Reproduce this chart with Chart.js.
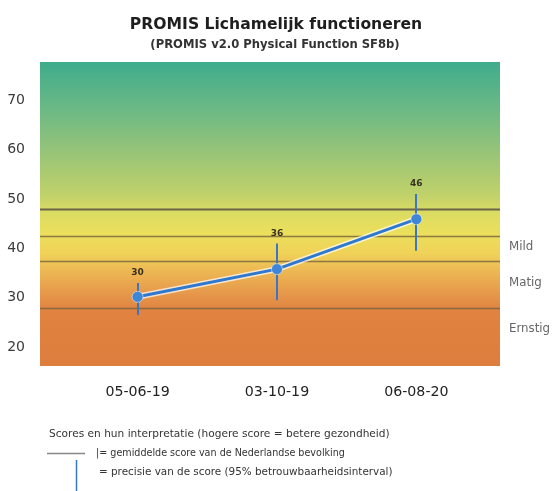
<!DOCTYPE html>
<html>
<head>
<meta charset="utf-8">
<script src="https://cdn.jsdelivr.net/npm/chart.js@4"></script>
<style>
  body { margin: 0; background: #fff; }
  canvas { display: block; }
</style>
</head>
<body>
<canvas id="grafiek" width="558" height="491"></canvas>
<script>
// Gegevens
const categories = ['05-06-19', '03-10-19', '06-08-20'];
const scores = [30.2, 35.8, 45.9];
const lower = [26.5, 29.5, 39.5];
const upper = [33, 41, 51];
const scoreLabels = ['30', '36', '46'];
const yTicks = [20, 30, 40, 50, 60, 70];
const refLines = [48, 42.5, 37.5, 28];
const bandLabels = ['Mild', 'Matig', 'Ernstig'];
const bandLabelValues = [40.2, 33.1, 23.8];

const FONT = '"DejaVu Sans", Verdana, sans-serif';

// Achtergrond met kleurverloop en referentielijnen
const achtergrond = {
  id: 'achtergrond',
  beforeDraw(chart) {
    const { ctx, chartArea: a, scales: { y } } = chart;
    ctx.save();
    ctx.fillStyle = '#fff';
    ctx.fillRect(0, 0, chart.width, chart.height);
    const g = ctx.createLinearGradient(0, a.top, 0, a.bottom);
    const stop = (v, c) => {
      const p = (y.getPixelForValue(v) - a.top) / (a.bottom - a.top);
      g.addColorStop(Math.min(1, Math.max(0, p)), c);
    };
    stop(78, '#3fac8c');
    stop(68, '#6cb985');
    stop(59, '#99c577');
    stop(51, '#bfd16a');
    stop(47, '#dcdc62');
    stop(43, '#ebdf5c');
    stop(39, '#f0d258');
    stop(35, '#ecb553');
    stop(31, '#e6994b');
    stop(27.5, '#e08240');
    stop(16, '#de7e3e');
    ctx.fillStyle = g;
    ctx.fillRect(a.left, a.top, a.right - a.left, a.bottom - a.top);

    refLines.forEach((v, i) => {
      const py = Math.round(y.getPixelForValue(v)) + 0.5;
      ctx.strokeStyle = i === 0 ? 'rgba(95,88,70,0.9)' : 'rgba(115,98,60,0.8)';
      ctx.lineWidth = i === 0 ? 2 : 1.5;
      ctx.beginPath();
      ctx.moveTo(a.left, py);
      ctx.lineTo(a.right, py);
      ctx.stroke();
    });
    ctx.restore();
  },
  beforeDatasetsDraw(chart) {
    const { ctx, scales: { x, y } } = chart;
    ctx.save();
    ctx.strokeStyle = '#3a76c4';
    ctx.lineWidth = 2;
    categories.forEach((c, i) => {
      const px = Math.round(x.getPixelForValue(i));
      ctx.beginPath();
      ctx.moveTo(px, y.getPixelForValue(upper[i]));
      ctx.lineTo(px, y.getPixelForValue(lower[i]));
      ctx.stroke();
    });
    ctx.restore();
  },
  afterDraw(chart) {
    const { ctx, chartArea: a, scales: { x, y } } = chart;
    ctx.save();
    // titel
    ctx.textAlign = 'center';
    ctx.textBaseline = 'middle';
    ctx.fillStyle = '#1e1e1e';
    ctx.font = 'bold 15.6px ' + FONT;
    ctx.fillText('PROMIS Lichamelijk functioneren', 276, 25);
    ctx.font = 'bold 11.6px ' + FONT;
    ctx.fillStyle = '#333';
    ctx.fillText('(PROMIS v2.0 Physical Function SF8b)', 275, 45);

    // labels boven de foutbalken
    ctx.font = 'bold 9px ' + FONT;
    ctx.fillStyle = '#3a3020';
    scoreLabels.forEach((t, i) => {
      ctx.fillText(t, x.getPixelForValue(i), y.getPixelForValue(upper[i]) - 10);
    });

    // banden rechts
    ctx.textAlign = 'left';
    ctx.font = '11.8px ' + FONT;
    ctx.fillStyle = '#666';
    bandLabels.forEach((t, i) => {
      ctx.fillText(t, a.right + 9, y.getPixelForValue(bandLabelValues[i]));
    });

    // legenda onderaan
    ctx.fillStyle = '#333';
    ctx.font = '10.6px ' + FONT;
    ctx.fillText('Scores en hun interpretatie (hogere score = betere gezondheid)', 49, 434);
    ctx.font = '9.6px ' + FONT;
    ctx.fillText('|= gemiddelde score van de Nederlandse bevolking', 96, 453);
    ctx.font = '10.4px ' + FONT;
    ctx.fillText('= precisie van de score (95% betrouwbaarheidsinterval)', 99, 472);
    ctx.strokeStyle = '#888';
    ctx.lineWidth = 1.5;
    ctx.beginPath();
    ctx.moveTo(47, 453.5);
    ctx.lineTo(85, 453.5);
    ctx.stroke();
    ctx.strokeStyle = '#3a76c4';
    ctx.beginPath();
    ctx.moveTo(76.5, 460);
    ctx.lineTo(76.5, 491);
    ctx.stroke();
    ctx.restore();
  }
};

const punten = scores.map((v, i) => ({ x: i, y: v }));

new Chart(document.getElementById('grafiek'), {
  type: 'line',
  data: {
    datasets: [
      {
        data: punten,
        borderColor: '#2f78cf',
        borderWidth: 3,
        pointRadius: 5.5,
        pointBackgroundColor: '#3d86d8',
        pointBorderColor: 'rgba(255,255,255,0.5)',
        pointBorderWidth: 1,
        order: 1,
      },
      {
        data: punten,
        borderColor: 'rgba(255,255,255,0.7)',
        borderWidth: 6,
        pointRadius: 0,
        order: 2,
      },
    ],
  },
  options: {
    responsive: false,
    animation: false,
    layout: { padding: { top: 62, right: 58, bottom: 95, left: 0 } },
    plugins: {
      legend: { display: false },
      tooltip: { enabled: false },
    },
    scales: {
      x: {
        type: 'linear',
        min: -0.7,
        max: 2.6,
        grid: { display: false },
        border: { display: false },
        afterBuildTicks: (s) => { s.ticks = categories.map((c, i) => ({ value: i })); },
        afterFit: (s) => { s.height = 30; },
        ticks: {
          padding: 10,
          color: '#222',
          font: { family: FONT, size: 14.2 },
          callback: (v) => categories[v],
        },
      },
      y: {
        min: 16.2,
        max: 77.7,
        grid: { display: false },
        border: { display: false },
        afterBuildTicks: (s) => { s.ticks = yTicks.map((v) => ({ value: v })); },
        afterFit: (s) => { s.width = 40; },
        ticks: {
          padding: 7,
          color: '#3a3a3a',
          font: { family: FONT, size: 14 },
        },
      },
    },
  },
  plugins: [achtergrond],
});
</script>
</body>
</html>
